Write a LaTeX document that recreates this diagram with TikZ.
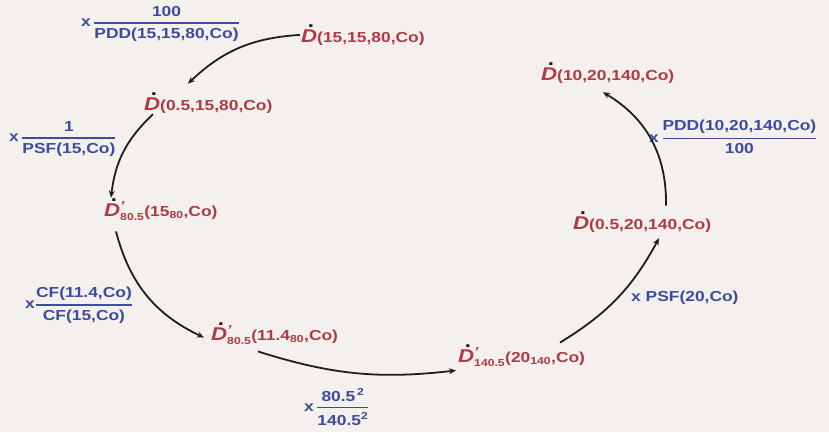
\documentclass[tikz,border=0pt]{standalone}
\usepackage{amsmath}
\usepackage{fontspec}
\setmainfont[FakeStretch=1.2]{Liberation Sans}
\usepackage{tikz}
\usetikzlibrary{arrows.meta}
\definecolor{paper}{HTML}{F3F0ED}
\definecolor{doser}{HTML}{B03A45}
\definecolor{factb}{HTML}{3D4C9C}
\definecolor{ink}{HTML}{1E1E1E}
\newcommand{\Dd}{{\fontsize{18.5}{20}\selectfont\makebox[0pt][l]{\hspace{0.36em}\raisebox{0.78em}{\color{black!75!doser}.}}\textit{D}}}
\newcommand{\Dp}[1]{\Dd${}^{\text{\fontsize{13}{13}\selectfont\itshape '}}_{\text{#1}}$}
\newcommand{\fr}[2]{$\genfrac{}{}{1.4pt}{0}{\text{#1}}{\text{#2}}$}

\begin{document}
\begin{tikzpicture}[x=1pt, y=-1pt,
  rate/.style={font=\bfseries\fontsize{14.5}{16}\selectfont, text=doser, inner sep=1pt, anchor=base west},
  fac/.style={font=\bfseries\fontsize{14.5}{16}\selectfont, text=factb, inner sep=1pt, anchor=west},
  arr/.style={-{Stealth[length=7pt,width=6pt]}, ink, line width=1.8pt}]
  \fill[paper] (0,0) rectangle (829,432);
  \useasboundingbox (0,0) rectangle (829,432);
  % dose rates around the cycle
  \node[rate] (ref)   at (300,42)  {\Dd(15,15,80,Co)};
  \node[rate] (max)   at (143,110) {\Dd(0.5,15,80,Co)};
  \node[rate] (sc)    at (103,216) {\Dp{80.5}(15\textsubscript{80},Co)};
  \node[rate] (fld)   at (210,340) {\Dp{80.5}(11.4\textsubscript{80},Co)};
  \node[rate] (dist)  at (457,362) {\Dp{140.5}(20\textsubscript{140},Co)};
  \node[rate] (maxb)  at (572,229) {\Dd(0.5,20,140,Co)};
  \node[rate] (pt)    at (540,80)  {\Dd(10,20,140,Co)};
  % factors
  \node[fac] (fpdd)  at (80,24)   {x\,\fr{100}{PDD(15,15,80,Co)}};
  \node[fac] (fpsf)  at (8,139)   {x\,\fr{1}{PSF(15,Co)}};
  \node[fac] (fcf)   at (24,305)  {x\fr{CF(11.4,Co)}{CF(15,Co)}};
  \node[fac] (fisq)  at (303,407) {x\,$\genfrac{}{}{1.4pt}{0}{\text{80.5}^{\,\text{2}}}{\text{140.5}^{\text{2}}}$};
  \node[fac] (fpsfb) at (630,298) {x PSF(20,Co)};
  \node[fac] (fpddb) at (648,137) {x\,\fr{PDD(10,20,140,Co)}{100}};
  \draw[arr] (ref.west) to[bend right=20] ([xshift=45pt,yshift=8pt]max.north west);
  \draw[arr] ([xshift=10pt]max.south west) to[bend right=20] ([xshift=8pt]sc.north west);
  \draw[arr] ([xshift=13pt,yshift=-10pt]sc.south west) to[bend right=25] ([xshift=-6pt,yshift=-4pt]fld.west);
  \draw[arr] ([xshift=48pt,yshift=-6pt]fld.south west) to[bend right=12] ([xshift=-1pt,yshift=-3pt]dist.south west);
  \draw[arr] ([xshift=103pt,yshift=1pt]dist.north west) to[bend right=15] ([xshift=87pt,yshift=-5pt]maxb.south west);
  \draw[arr] ([xshift=94pt,yshift=5pt]maxb.north west) to[bend right=30] ([xshift=63pt,yshift=-8pt]pt.south west);
\end{tikzpicture}
\end{document}
